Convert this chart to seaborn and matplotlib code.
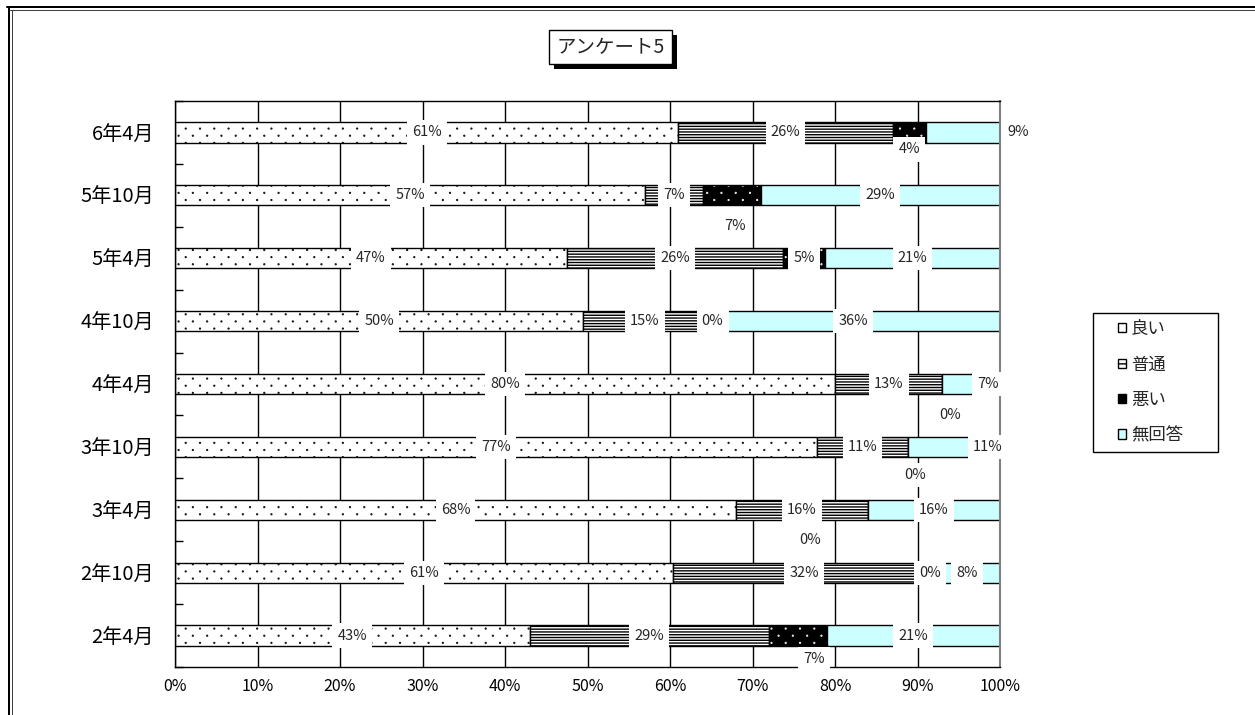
import numpy as np
import pandas as pd
import seaborn as sns
import matplotlib
matplotlib.use("Agg")
import matplotlib.pyplot as plt
import matplotlib.hatch as mhatch
from matplotlib.path import Path
from matplotlib.patches import Patch, Rectangle
from matplotlib.lines import Line2D

# Survey periods, top row first
periods = ["6年4月", "5年10月", "5年4月", "4年10月", "4年4月",
           "3年10月", "3年4月", "2年10月", "2年4月"]
# Response shares (%) per period
good = [61, 57, 47, 50, 80, 77, 68, 61, 43]
normal = [26, 7, 26, 15, 13, 11, 16, 32, 29]
bad = [4, 7, 5, 0, 0, 0, 0, 0, 7]
no_answer = [9, 29, 21, 36, 7, 11, 16, 8, 21]
series_labels = ["良い", "普通", "悪い", "無回答"]
x_ticks = [0, 10, 20, 30, 40, 50, 60, 70, 80, 90, 100]
title = "アンケート5"


class DotLattice(mhatch.HatchPatternBase):
    """Sparse staggered dot fill used for the '.' hatch."""

    def __init__(self, hatch, density):
        n = hatch.count(".")
        circle = Path.unit_circle()
        self.shape_vertices = circle.vertices
        self.shape_codes = circle.codes
        if n == 0:
            self.centers = np.empty((0, 2))
            self.num_vertices = 0
            return
        rows, cols = 14 * n, 7 * n
        centers = []
        for r in range(rows + 1):
            y = r / rows
            if r % 2 == 0:
                xs = np.arange(cols + 1) / cols
            else:
                xs = (np.arange(cols) + 0.5) / cols
            centers.extend((x, y) for x in xs)
        self.centers = np.array(centers)
        self.num_vertices = len(self.centers) * len(self.shape_vertices)

    def set_vertices_and_codes(self, vertices, codes):
        radius = 0.004
        parts = [self.shape_vertices * radius + c for c in self.centers]
        np.concatenate(parts, out=vertices)
        np.concatenate([self.shape_codes] * len(self.centers), out=codes)


mhatch._hatch_types = [DotLattice if t is mhatch.SmallFilledCircles else t
                       for t in mhatch._hatch_types]

sns.set_style("white")
plt.rcParams["font.family"] = ["Noto Sans CJK JP", "DejaVu Sans"]
plt.rcParams["hatch.linewidth"] = 1.0

W, H = 1255, 715
fig = plt.figure(figsize=(W / 100, H / 100), dpi=100)


def fx(px):
    return px / W


def fy(py):
    return 1 - py / H


ax = fig.add_axes([fx(175), fy(667), fx(1000) - fx(175), fy(101) - fy(667)])

# 100% stacked: each row is scaled to its own total
raw = {"良い": good, "普通": normal, "悪い": bad, "無回答": no_answer}
values = np.array([raw[k] for k in series_labels], dtype=float)
totals = values.sum(axis=0)
df = pd.DataFrame({"period": periods})
for name, row in zip(series_labels, values / totals * 100):
    df[name] = row

styles = {
    "良い": dict(color="white", edgecolor="black", hatch=".", linewidth=1.0),
    "普通": dict(color="white", edgecolor="black", hatch="------", linewidth=1.0),
    "悪い": dict(color="black", edgecolor="white", hatch=".", linewidth=0),
    "無回答": dict(color="#CCFFFF", edgecolor="black", linewidth=1.0),
}
BAR_W = 0.32

left = np.zeros(len(periods))
for name in series_labels:
    sns.barplot(data=df, x=name, y="period", order=periods, orient="h",
                left=left.copy(), width=BAR_W, saturation=1, errorbar=None,
                ax=ax, zorder=2, **styles[name])
    if name == "悪い":
        # outline for the white-dotted black segment
        sns.barplot(data=df, x=name, y="period", order=periods, orient="h",
                    left=left.copy(), width=BAR_W, errorbar=None, fill=False,
                    color="black", edgecolor="black", linewidth=1.0,
                    ax=ax, zorder=2)
    left += df[name].to_numpy()

# Data labels, centred on each segment; a few are nudged aside
label_shift = {
    ("6年4月", "悪い"): (0.0, 0.27),
    ("6年4月", "無回答"): (6.7, 0.0),
    ("5年10月", "悪い"): (0.4, 0.49),
    ("4年10月", "悪い"): (0.8, 0.0),
    ("4年4月", "悪い"): (1.0, 0.5),
    ("4年4月", "無回答"): (2.0, 0.0),
    ("3年10月", "悪い"): (0.8, 0.45),
    ("3年10月", "無回答"): (4.1, 0.0),
    ("3年4月", "悪い"): (-7.0, 0.48),
    ("2年10月", "悪い"): (-0.6, 0.0),
    ("2年4月", "悪い"): (2.0, 0.37),
}
cum = np.zeros(len(periods))
for name in series_labels:
    share = df[name].to_numpy()
    for i, p in enumerate(periods):
        dx, dy = label_shift.get((p, name), (0.0, 0.0))
        ax.text(cum[i] + share[i] / 2 + dx, i + dy, f"{raw[name][i]}%",
                ha="center", va="center", fontsize=10.5, zorder=6, clip_on=False,
                bbox=dict(boxstyle="square,pad=0.35", fc="white", ec="none"))
    cum += share

ax.set_xlim(0, 100)
ax.set_xticks(x_ticks)
ax.set_xticklabels([f"{t}%" for t in x_ticks])
ax.set_xlabel("")
ax.set_ylabel("")
ax.set_axisbelow(True)
ax.grid(axis="x", color="black", linewidth=1.0)
ax.grid(axis="y", visible=False)
ax.tick_params(axis="x", length=0, pad=8, labelsize=11.5, colors="black")
ax.tick_params(axis="y", which="major", length=0, pad=15, labelsize=14.5,
               colors="black")
ax.set_yticks(np.arange(-0.5, len(periods), 1.0), minor=True)
ax.tick_params(axis="y", which="minor", direction="in", length=6, width=1,
               color="black", left=True)
for s in ["top", "left", "bottom"]:
    ax.spines[s].set_color("black")
    ax.spines[s].set_linewidth(1.0)
ax.spines["right"].set_color("#808080")
ax.spines["right"].set_linewidth(1.5)

# Legend with a fixed frame
handles = [
    Patch(facecolor="white", edgecolor="black", linewidth=1),
    Patch(facecolor="white", edgecolor="black", hatch="---", linewidth=1),
    Patch(facecolor="black", edgecolor="black", linewidth=1),
    Patch(facecolor="#CCFFFF", edgecolor="black", linewidth=1),
]
fig.legend(handles, series_labels, loc="upper left",
           bbox_to_anchor=(fx(1118), fy(320)), frameon=False, fontsize=12.5,
           handlelength=0.45, handleheight=0.45, handletextpad=0.3,
           labelspacing=1.0, borderaxespad=0, borderpad=0)
fig.add_artist(Rectangle((fx(1093), fy(452)), fx(1218) - fx(1093),
                         fy(313) - fy(452), transform=fig.transFigure,
                         fill=False, edgecolor="black", linewidth=1))

# Title box with drop shadow
fig.add_artist(Rectangle((fx(554), fy(69)), fx(677) - fx(554), fy(35) - fy(69),
                         transform=fig.transFigure, facecolor="black",
                         edgecolor="black", linewidth=0))
fig.add_artist(Rectangle((fx(549), fy(64)), fx(672) - fx(549), fy(30) - fy(64),
                         transform=fig.transFigure, facecolor="white",
                         edgecolor="black", linewidth=1))
fig.text(fx(610.5), fy(47.5), title, ha="center", va="center", fontsize=14)

# Outer chart frame (double line on top and left)
for off, lw, col in [(7, 2.0, "black"), (10, 1.0, "#404040")]:
    fig.add_artist(Line2D([fx(off), fx(W)], [fy(off), fy(off)],
                          transform=fig.transFigure, color=col, linewidth=lw * 0.72))
    fig.add_artist(Line2D([fx(off + 2), fx(off + 2)], [fy(off), fy(H)],
                          transform=fig.transFigure, color=col, linewidth=lw * 0.72))

fig.savefig("out.png", dpi=100)
